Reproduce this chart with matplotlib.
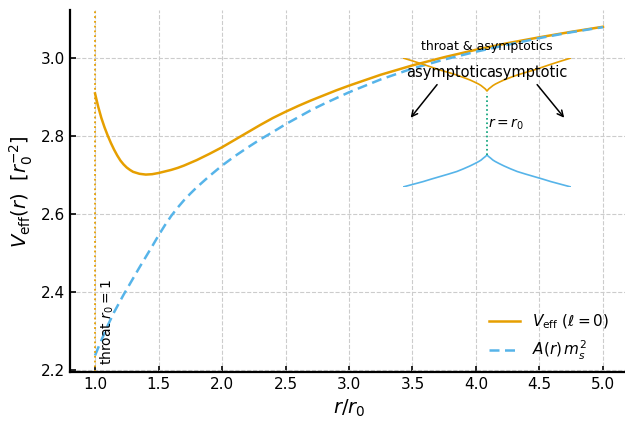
import matplotlib
matplotlib.use("Agg")
import matplotlib.pyplot as plt

# Radial grid r/r0 and the two curves
r = [1.0, 1.025, 1.05, 1.075, 1.1, 1.125, 1.15, 1.175, 1.2, 1.225, 1.25,
     1.275, 1.3, 1.35, 1.4, 1.45, 1.5, 1.55, 1.6, 1.65, 1.7, 1.75, 1.8,
     1.9, 2.0, 2.1, 2.2, 2.3, 2.4, 2.5, 2.6, 2.7, 2.8, 2.9, 3.0, 3.25,
     3.5, 3.75, 4.0, 4.25, 4.5, 4.75, 5.0]
v_eff = [2.909, 2.875, 2.846, 2.822, 2.801, 2.782, 2.765, 2.750, 2.737,
         2.727, 2.719, 2.713, 2.708, 2.703, 2.701, 2.702, 2.705, 2.709,
         2.713, 2.718, 2.724, 2.731, 2.738, 2.754, 2.771, 2.790, 2.809,
         2.828, 2.846, 2.862, 2.877, 2.891, 2.904, 2.917, 2.929, 2.957,
         2.981, 3.002, 3.021, 3.038, 3.053, 3.067, 3.080]
a_ms2 = [2.237, 2.257, 2.276, 2.295, 2.314, 2.331, 2.348, 2.363, 2.378,
         2.393, 2.407, 2.421, 2.435, 2.463, 2.490, 2.517, 2.545, 2.571,
         2.595, 2.616, 2.635, 2.652, 2.668, 2.697, 2.724, 2.748, 2.770,
         2.791, 2.810, 2.830, 2.848, 2.866, 2.882, 2.897, 2.912, 2.945,
         2.973, 2.996, 3.016, 3.034, 3.051, 3.066, 3.079]

# Schematic inset: behaviour around the throat (symmetric coordinate)
inset_x = [-1.0, -0.88, -0.76, -0.66, -0.56, -0.46, -0.36, -0.28, -0.2,
           -0.15, -0.1, -0.07, -0.045, -0.02, 0.0,
           0.02, 0.045, 0.07, 0.1, 0.15, 0.2, 0.28, 0.36, 0.46, 0.56,
           0.66, 0.76, 0.88, 1.0]
inset_v = [1.0, 0.976, 0.951, 0.929, 0.907, 0.888, 0.868, 0.849, 0.829,
           0.814, 0.798, 0.786, 0.773, 0.760, 0.744,
           0.760, 0.773, 0.786, 0.798, 0.814, 0.829, 0.849, 0.868, 0.888,
           0.907, 0.929, 0.951, 0.976, 1.0]
inset_a = [0.0, 0.021, 0.042, 0.062, 0.081, 0.100, 0.120, 0.141, 0.164,
           0.180, 0.197, 0.209, 0.223, 0.236, 0.248,
           0.236, 0.223, 0.209, 0.197, 0.180, 0.164, 0.141, 0.120, 0.100,
           0.081, 0.062, 0.042, 0.021, 0.0]

x_ticks = [1.0, 1.5, 2.0, 2.5, 3.0, 3.5, 4.0, 4.5, 5.0]
y_ticks = [2.2, 2.4, 2.6, 2.8, 3.0]

ORANGE = "#E69F00"
BLUE = "#56B4E9"
GREEN = "#009E73"

fig = plt.figure(figsize=(6.25, 4.23), dpi=100)
ax = fig.add_axes([0.1114, 0.1206, 0.894, 0.855])

ax.plot(r, v_eff, color=ORANGE, lw=1.8, label=r"$V_{\rm eff}\ (\ell=0)$")
ax.plot(r, a_ms2, color=BLUE, lw=1.8, ls=(0, (4, 2.2)), label=r"$A(r)\,m_s^2$")
ax.axvline(1.0, color=ORANGE, ls=":", lw=1.3)
ax.text(1.03, 2.212, r"throat $r_0=1$", rotation=90, ha="left", va="bottom",
        fontsize=10)

ax.set_xticks(x_ticks)
ax.set_yticks(y_ticks)
ax.tick_params(direction="in", labelsize=11, length=4, width=1.2)
ax.grid(True, ls="--", color="#cccccc", lw=0.8)
ax.set_axisbelow(True)
for s in ("top", "right"):
    ax.spines[s].set_visible(False)
for s in ("left", "bottom"):
    ax.spines[s].set_linewidth(1.6)

ax.set_xlabel(r"$r/r_0$", fontsize=14)
ax.set_ylabel(r"$V_{\rm eff}(r)\ \ [r_0^{-2}]$", fontsize=14)
ax.legend(loc="lower right", frameon=False, fontsize=11,
          bbox_to_anchor=(0.99, -0.01))

# Inset sketch
ins = fig.add_axes([0.6448, 0.5579, 0.2688, 0.305])
ins.plot(inset_x, inset_v, color=ORANGE, lw=1.2)
ins.plot(inset_x, inset_a, color=BLUE, lw=1.2)
mid = len(inset_x) // 2
ins.plot([inset_x[mid], inset_x[mid]], [inset_a[mid], inset_v[mid] - 0.015],
         color=GREEN, ls=":", lw=1.2)
ins.set_xlim(-1, 1)
ins.set_ylim(0, 1)
ins.axis("off")
ins.set_title("throat & asymptotics", fontsize=9)
ins.text(0.01, 0.488, r"$r=r_0$", ha="left", va="center", fontsize=10)
for xt, xa in ((-0.476, -0.93), (0.476, 0.94)):
    ins.annotate("asymptotic", xy=(xa, 0.52), xytext=(xt, 0.89),
                 ha="center", va="center", fontsize=10.5,
                 arrowprops=dict(arrowstyle="->", color="black", lw=1.1))

fig.savefig("out.png", dpi=100)
